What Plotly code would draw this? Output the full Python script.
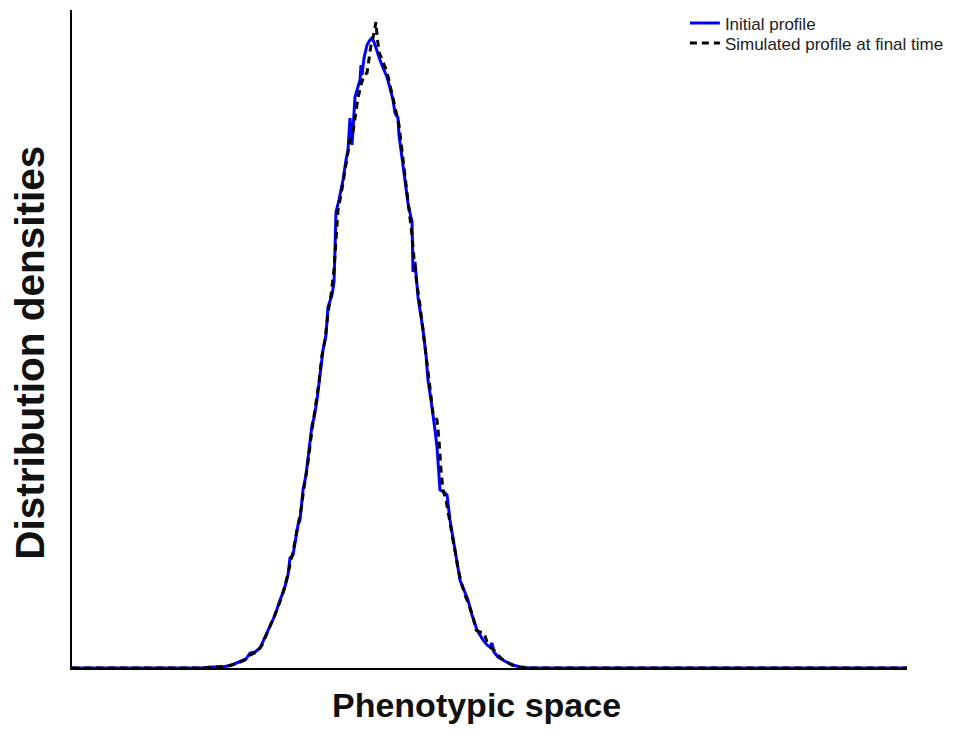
import plotly.graph_objects as go

# Phenotypic position (arbitrary units, axis spans 0..835) and density (arbitrary units, axis spans 0..658)
initial_x = [0, 78, 128, 140, 151, 160, 168, 174, 178, 183, 188, 193, 198, 203, 208, 212, 216, 218, 221,
             226, 228, 231, 234, 236, 240, 242, 245, 248, 250, 251, 254, 256, 260, 262, 263, 264, 267,
             271, 274, 276, 278, 280, 283, 286, 288, 289, 290, 292, 295, 298, 300, 302, 305, 308, 312,
             315, 318, 321, 323, 326, 327, 328, 331, 333, 336, 338, 340, 341, 343, 346, 348, 351, 354,
             356, 359, 361, 363, 365, 367, 368, 372, 375, 378, 380, 383, 386, 388, 392, 396, 400, 405,
             408, 411, 415, 418, 420, 422, 426, 431, 436, 441, 448, 458, 528, 835]
initial_y = [0, 0, 0, 1, 1, 3, 6, 9, 15, 16, 20, 31, 41, 53, 68, 78, 93, 110, 113,
             143, 148, 178, 193, 210, 243, 250, 268, 293, 313, 318, 333, 361, 373, 386, 418, 456, 468,
             488, 508, 518, 550, 523, 571, 580, 588, 603, 593, 610, 623, 628, 630, 626, 616, 608, 598,
             591, 580, 568, 555, 550, 533, 525, 503, 488, 465, 455, 446, 396, 406, 371, 358, 338, 313,
             288, 268, 255, 238, 221, 198, 178, 176, 173, 148, 135, 118, 100, 88, 78, 68, 53, 38,
             33, 28, 23, 21, 25, 16, 11, 8, 5, 3, 1, 0, 0, 0]

final_x = [0, 128, 143, 156, 166, 173, 178, 185, 190, 195, 200, 205, 210, 214, 218, 221, 225, 229, 232,
           236, 240, 244, 247, 250, 253, 256, 259, 262, 264, 266, 269, 272, 275, 278, 281, 283, 286,
           289, 292, 295, 297, 299, 301, 303, 304, 305, 307, 311, 315, 318, 321, 324, 327, 329, 332,
           335, 338, 340, 342, 345, 348, 351, 354, 357, 359, 361, 365, 367, 369, 371, 374, 377, 380,
           383, 386, 389, 393, 397, 401, 404, 408, 412, 415, 419, 422, 425, 430, 435, 440, 448, 458, 835]
final_y = [0, 0, 1, 2, 5, 8, 13, 16, 23, 35, 46, 58, 72, 86, 103, 116, 138, 158, 180,
           206, 238, 263, 286, 313, 328, 355, 373, 398, 433, 458, 473, 490, 510, 528, 536, 548, 570,
           583, 593, 595, 608, 623, 630, 640, 646, 633, 616, 606, 596, 583, 570, 556, 543, 526, 500,
           476, 453, 433, 410, 383, 363, 338, 316, 290, 270, 255, 248, 228, 198, 178, 168, 150, 133,
           116, 100, 86, 73, 63, 51, 38, 36, 35, 26, 20, 18, 14, 9, 6, 3, 1, 0, 0]

legend_names = ["Initial profile", "Simulated profile at final time"]
axis_titles = ["Phenotypic space", "Distribution densities"]

fig = go.Figure()
fig.add_trace(go.Scatter(x=initial_x, y=initial_y, mode="lines", name=legend_names[0],
                         legend="legend",
                         line=dict(color="#0000ff", width=3)))
fig.add_trace(go.Scatter(x=final_x, y=final_y, mode="lines", name=legend_names[1],
                         legend="legend2",
                         line=dict(color="#000000", width=3, dash="7px,5px")))

legend_common = dict(xanchor="left", yanchor="middle", bgcolor="rgba(0,0,0,0)",
                     font=dict(size=17, color="#222222"), itemwidth=30, borderwidth=0)

fig.update_layout(
    width=965, height=740,
    margin=dict(l=64, r=66, t=2, b=80, autoexpand=False),
    paper_bgcolor="white", plot_bgcolor="white",
    font=dict(family="Liberation Sans, Arial, sans-serif", color="#000000"),
    showlegend=True,
    legend=dict(x=0.734, y=0.9795, **legend_common),
    legend2=dict(x=0.734, y=0.949, **legend_common),
    xaxis=dict(range=[0, 835], showgrid=False, zeroline=False, showticklabels=False, ticks="",
               showline=True, linecolor="#000000", linewidth=2),
    yaxis=dict(range=[0, 658], showgrid=False, zeroline=False, showticklabels=False, ticks="",
               showline=True, linecolor="#000000", linewidth=2),
    annotations=[
        dict(text="<b>%s</b>" % axis_titles[0], xref="paper", yref="paper", x=0.484, y=-0.0565,
             xanchor="center", yanchor="middle", showarrow=False, font=dict(size=34, color="#111111")),
        dict(text="<b>%s</b>" % axis_titles[1], xref="paper", yref="paper", x=-0.0503, y=0.479,
             xanchor="center", yanchor="middle", textangle=-90, showarrow=False,
             font=dict(size=40.5, color="#111111")),
    ],
)

fig.write_html("out.html")
